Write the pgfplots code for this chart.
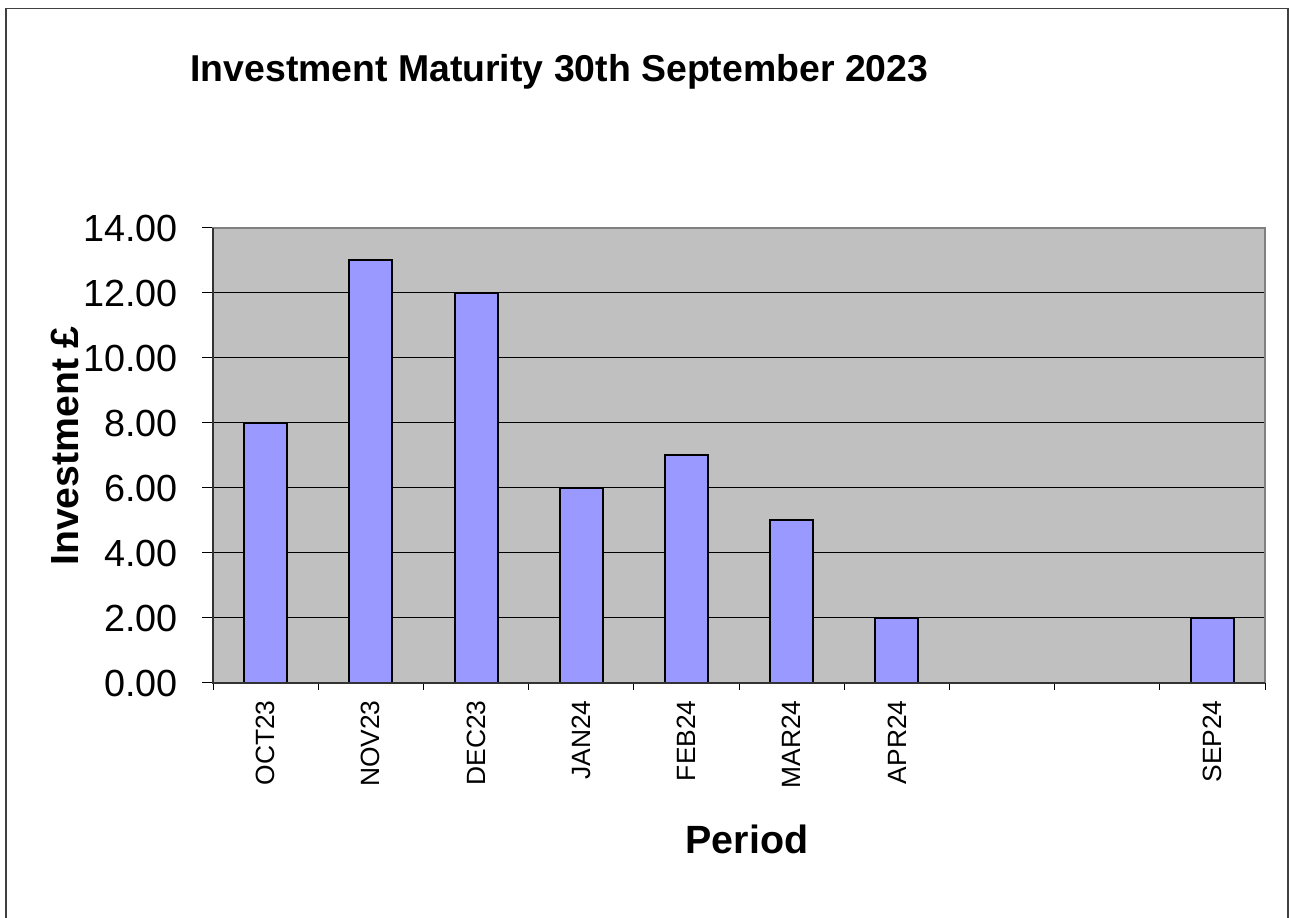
\documentclass[border=0pt]{standalone}
\usepackage{fontspec}
\setmainfont{Liberation Sans}
\usepackage{pgfplots}
\pgfplotsset{compat=1.18}
\definecolor{plotbg}{HTML}{C0C0C0}
\definecolor{barfill}{HTML}{9999FF}
\definecolor{frame}{HTML}{808080}

\begin{document}
\begin{tikzpicture}
\useasboundingbox (0,0) rectangle (646bp,459bp);
% outer chart frame (open at the bottom)
\draw[line width=0.6bp, black!75] (3bp,0) -- (3bp,454.8bp) -- (644bp,454.8bp) -- (644bp,0);

\begin{axis}[
  at={(106.5bp,117.5bp)}, anchor=south west,
  scale only axis,
  width=526bp, height=227.5bp,
  xmin=-0.5, xmax=9.5,
  ymin=0, ymax=14,
  ytick={0,2,...,14},
  xtick={0,1,2,3,4,5,6,9},
  xticklabels={OCT23,NOV23,DEC23,JAN24,FEB24,MAR24,APR24,SEP24},
  xtick style={draw=none},
  xticklabel style={yshift=-3bp, rotate=90, anchor=east, inner sep=0pt,
      font=\fontsize{13.2bp}{15bp}\selectfont},
  extra x ticks={-0.5,0.5,...,9.5},
  extra x tick labels={},
  extra x tick style={
    major tick length=3.5bp,
    xtick style={draw=black, line width=0.5bp},
  },
  xtick pos=left, ytick pos=left,
  tick align=outside,
  major tick length=5.5bp,
  y tick style={black, line width=0.5bp},
  ymajorgrids,
  grid style={black, line width=0.5bp},
  axis line style={frame, line width=0.8bp},
  axis background/.style={fill=plotbg},
  /pgf/number format/assume math mode=true,
  yticklabel={\pgfmathprintnumber[fixed,fixed zerofill,precision=2]{\tick}},
  yticklabel style={anchor=east, inner sep=0pt, xshift=-12bp,
    font=\fontsize{18.9bp}{21bp}\selectfont},
  ybar, bar width=21.5bp,
  clip=false,
]
\addplot[fill=barfill, draw=black, line width=1bp] coordinates {
  (0,8) (1,13) (2,12) (3,6) (4,7) (5,5) (6,2) (9,2)
};
\draw[black!80, line width=0.8bp] (rel axis cs:0,1) -- (rel axis cs:0,0) -- (rel axis cs:1,0);
\end{axis}

\node[anchor=base west, inner sep=0pt, font=\bfseries\fontsize{18.7bp}{21bp}\selectfont]
  at (95bp,418bp) {Investment Maturity 30th September 2023};
\node[anchor=base, rotate=90, inner sep=0pt, font=\bfseries\fontsize{19.6bp}{22bp}\selectfont]
  at (39bp,236bp) {Investment £};
\node[anchor=base, inner sep=0pt, font=\bfseries\fontsize{19.7bp}{22bp}\selectfont]
  at (373.5bp,32.5bp) {Period};
\end{tikzpicture}
\end{document}
